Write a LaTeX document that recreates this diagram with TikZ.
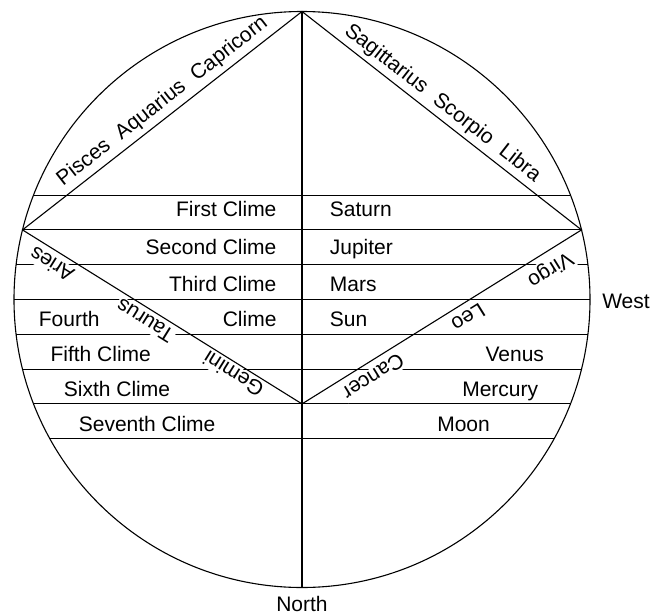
\documentclass[tikz,border=0pt]{standalone}
\usepackage{fontspec}
\setmainfont{Liberation Sans}
\begin{document}
\begin{tikzpicture}[x=1pt,y=-1pt, line width=1.1pt,
  txt/.style={font=\fontsize{21}{25}\selectfont, inner sep=0pt},
  zod/.style={font=\fontsize{21}{25}\selectfont, inner sep=1.5pt, fill=white},
  zodtop/.style={font=\fontsize{21}{25}\selectfont, inner sep=0pt}]
\useasboundingbox (0,0) rectangle (663,615);
\coordinate (C) at (302,299.5);
\coordinate (T) at (302,11.5);
\coordinate (S) at (302,587.5);
\coordinate (L) at (22.5,229.9);
\coordinate (R) at (581.5,229.9);
\coordinate (B) at (302,403.9);
% horizontal climes lines
\foreach \k in {-3,...,4}{
  \pgfmathsetmacro\dy{34.8*\k}
  \pgfmathsetmacro\yy{299.5+34.8*\k}
  \pgfmathsetmacro\hl{288*sqrt(1-(\dy/288)^2)}
  \pgfmathsetmacro\xa{302-\hl}
  \pgfmathsetmacro\xb{302+\hl}
  \draw (\xa,\yy) -- (\xb,\yy);
}
% lower zodiac labels (upside down)
\node[zod, rotate=148.1] (aries) at (51.7,264.7) {Aries};
\node[zod, rotate=148.1] (taurus) at (145,320.8) {Taurus};
\node[zod, rotate=148.1] (gemini) at (233.3,374.2) {Gemini};
\node[zod, rotate=-148.1] (cancer) at (373.5,377) {Cancer};
\node[zodtop, rotate=-148.1] (leo) at (468.3,317.5) {Leo};
\node[zod, rotate=-148.1] (virgo) at (550,269.2) {Virgo};
% upper zodiac labels
\node[zodtop, rotate=38] (pisces) at (162.5,101.5) {Pisces\hspace{0.6em}Aquarius\hspace{0.6em}Capricorn};
\node[zodtop, rotate=-38] (sagit) at (442.5,103.5) {Sagittarius\hspace{0.6em}Scorpio\hspace{0.6em}Libra};
% main lines
\draw (T) -- (S);
\draw (L) -- (T) -- (R) -- (B) -- cycle;
\draw (C) circle[radius=288pt];
% climes
\node[txt, anchor=base east] (c1) at (277,216.7) {First Clime};
\node[txt, anchor=base east] (c2) at (277,254) {Second Clime};
\node[txt, anchor=base east] (c3) at (277,291.7) {Third Clime};
\node[txt, anchor=base west] (c4a) at (38.3,326.7) {Fourth};
\node[txt, anchor=base east] (c4b) at (277,326.7) {Clime};
\node[txt, anchor=base west] (c5) at (50,361.7) {Fifth Clime};
\node[txt, anchor=base west] (c6) at (63.3,396.7) {Sixth Clime};
\node[txt, anchor=base west] (c7) at (78.3,431.7) {Seventh Clime};
% planets
\node[txt, anchor=base west] (p1) at (329.3,216.7) {Saturn};
\node[txt, anchor=base west] (p2) at (329.3,254) {Jupiter};
\node[txt, anchor=base west] (p3) at (329.3,291.7) {Mars};
\node[txt, anchor=base west] (p4) at (329.3,326.7) {Sun};
\node[txt, anchor=base west] (p5) at (485,361.7) {Venus};
\node[txt, anchor=base west] (p6) at (461.7,396.7) {Mercury};
\node[txt, anchor=base west] (p7) at (436.7,431.7) {Moon};
% directions
\node[txt, anchor=base west] (west) at (601.7,308) {West};
\node[txt, anchor=base] (north) at (302,611.7) {North};
\end{tikzpicture}
\end{document}
